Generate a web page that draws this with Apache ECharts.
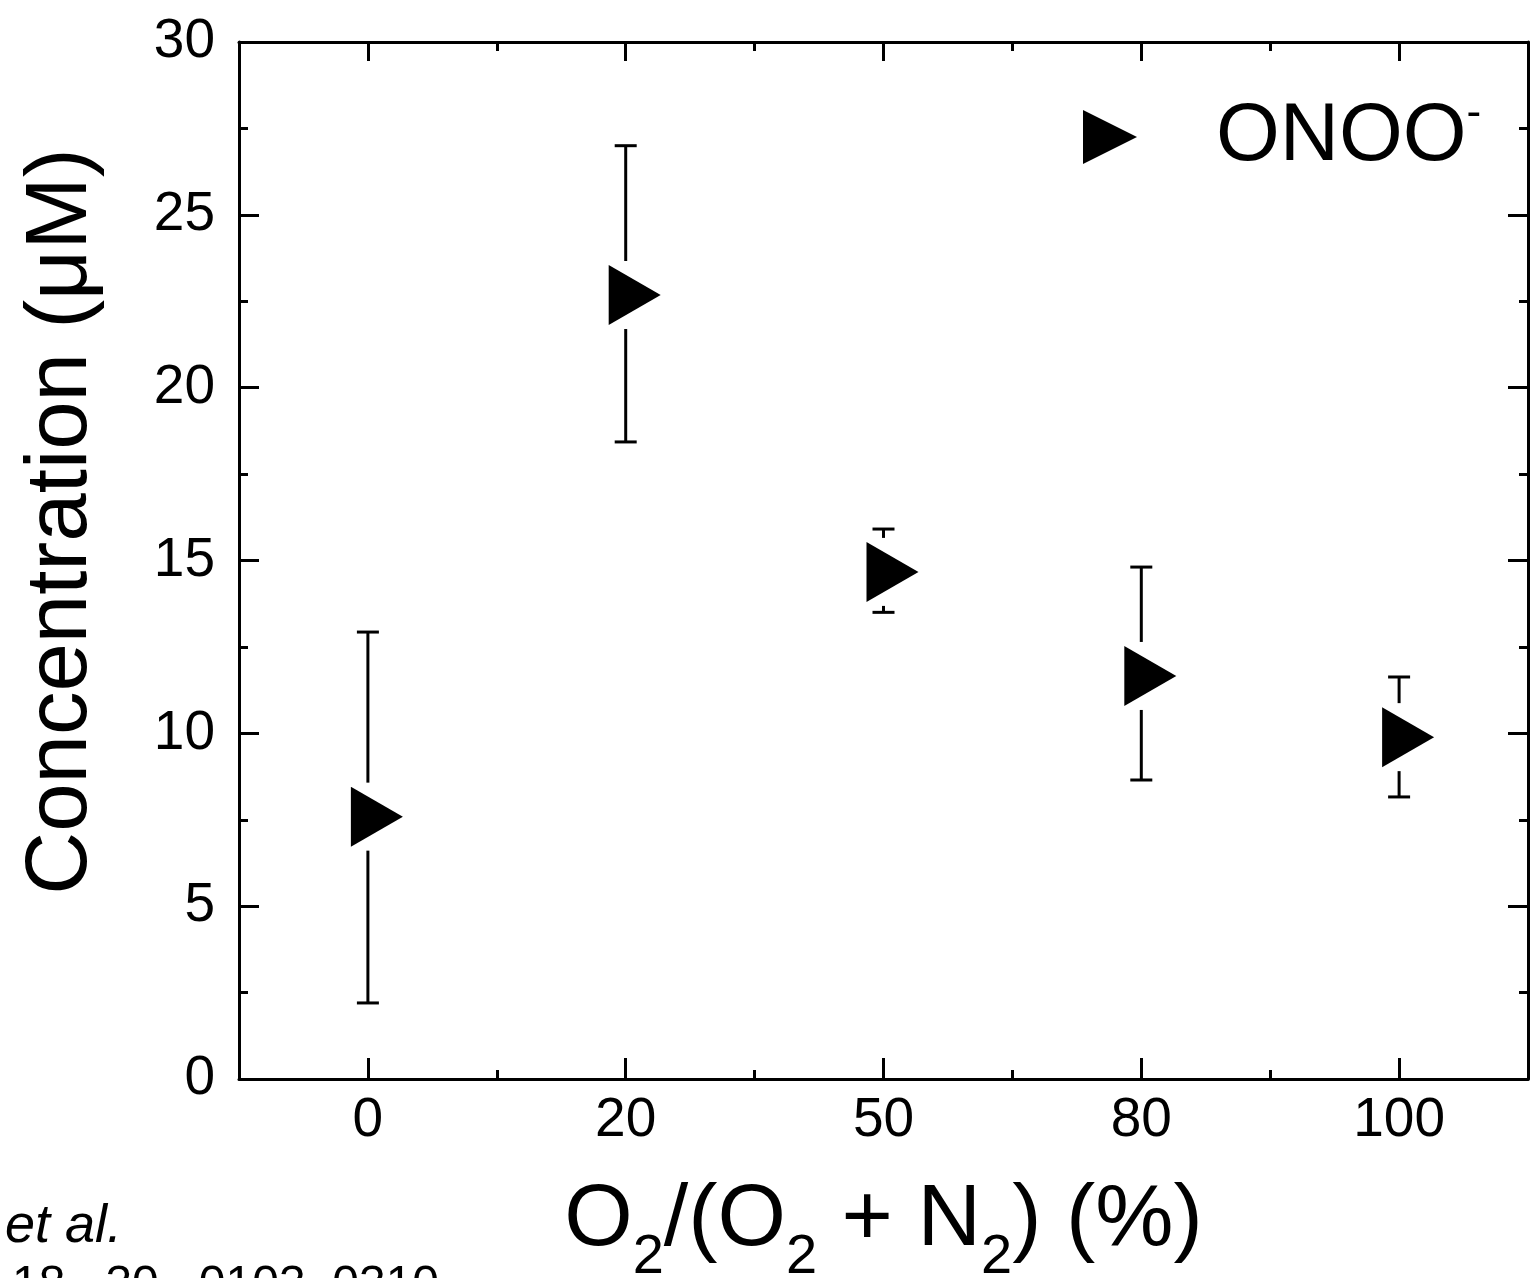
<!DOCTYPE html>
<html>
<head>
<meta charset="utf-8">
<script src="https://cdn.jsdelivr.net/npm/echarts@6/dist/echarts.min.js"></script>
<style>
html,body{margin:0;padding:0;background:#fff;}
#chart{width:1535px;height:1278px;}
</style>
</head>
<body>
<div id="chart"></div>
<script>
// ---- data ----
var categories = ['0', '20', '50', '80', '100'];
var values     = [7.59, 22.68, 14.67, 11.66, 9.89];
var errLow     = [2.20, 18.43, 13.50, 8.65, 8.16];
var errHigh    = [12.93, 27.00, 15.91, 14.81, 11.63];
var yTicks     = { min: 0, max: 30, interval: 5 };
var seriesName = 'ONOO';

var FONT = 'Liberation Sans, Arial, sans-serif';
var triPath = 'path://M0,0 L1,0.5 L0,1 Z';

var chart = echarts.init(document.getElementById('chart'), null, { renderer: 'canvas' });

var scatterData = values.map(function (v, i) { return [i, v]; });
var errData = values.map(function (v, i) { return [i, v, errLow[i], errHigh[i]]; });

function baseCat(pos, showLabel, centered, tickLen, showLine) {
  return {
    type: 'category', data: categories, position: pos, boundaryGap: true,
    axisLine: { show: showLine, onZero: false, lineStyle: { color: '#000', width: 3 } },
    axisTick: { show: true, inside: true, length: tickLen, alignWithLabel: centered, interval: 0,
                lineStyle: { color: '#000', width: 3 } },
    axisLabel: { show: showLabel, color: '#000', fontFamily: FONT, fontSize: 55, margin: 14, interval: 0 },
    splitLine: { show: false }
  };
}
function baseVal(pos, showLabel) {
  return {
    type: 'value', position: pos, min: yTicks.min, max: yTicks.max, interval: yTicks.interval,
    axisLine: { show: true, onZero: false, lineStyle: { color: '#000', width: 3 } },
    axisTick: { show: true, inside: true, length: 20, lineStyle: { color: '#000', width: 3 } },
    minorTick: { show: true, splitNumber: 2, length: 9, lineStyle: { color: '#000', width: 3 } },
    axisLabel: { show: showLabel, color: '#000', fontFamily: FONT, fontSize: 55, margin: 24 },
    splitLine: { show: false }, minorSplitLine: { show: false }
  };
}

var xMain = baseCat('bottom', true, true, 21, true);
xMain.name = '{a|O}{s|2}{a|/(O}{s|2}{a| + N}{s|2}{a|) (%)}';
xMain.nameLocation = 'middle';
xMain.nameGap = 77;
xMain.nameTextStyle = {
  rich: {
    a: { fontFamily: FONT, fontSize: 88, color: '#000', lineHeight: 130, verticalAlign: 'middle' },
    s: { fontFamily: FONT, fontSize: 56, color: '#000', lineHeight: 34, verticalAlign: 'bottom' }
  }
};

var yMain = baseVal('left', true);
yMain.name = 'Concentration (μM)';
yMain.nameLocation = 'middle';
yMain.nameGap = 133;
yMain.nameTextStyle = { fontFamily: FONT, fontSize: 87, color: '#000', padding: [0, 0, 0, 78] };

var option = {
  backgroundColor: '#fff',
  animation: false,
  grid: { left: 239, right: 7, top: 42, bottom: 199, containLabel: false, outerBoundsMode: 'none' },
  xAxis: [
    xMain,
    baseCat('bottom', false, false, 9, false),
    baseCat('top', false, true, 19, true),
    baseCat('top', false, false, 9, false)
  ],
  yAxis: [
    yMain,
    baseVal('right', false)
  ],
  legend: {
    show: true, left: 1078, top: 87, orient: 'horizontal',
    itemWidth: 54, itemHeight: 62, icon: triPath,
    data: [seriesName],
    formatter: function () { return '{g|}{a|ONOO}{b|-}'; },
    textStyle: {
      rich: {
        g: { width: 74 },
        a: { fontFamily: FONT, fontSize: 82, color: '#000', lineHeight: 90, verticalAlign: 'middle' },
        b: { fontFamily: FONT, fontSize: 44, color: '#000', lineHeight: 34, verticalAlign: 'top' }
      }
    }
  },
  graphic: [
    { type: 'text', left: 5, top: 1200, style: { text: 'et al.', fill: '#000', font: 'italic 54px ' + FONT } },
    { type: 'text', left: 12, top: 1262, style: { text: '18,  30,  0103–0310', fill: '#000', font: '48px ' + FONT } }
  ],
  series: [
    {
      type: 'custom', name: 'err', xAxisIndex: 0, yAxisIndex: 0, silent: true,
      data: errData, encode: { x: 0, y: 1 }, z: 2,
      renderItem: function (params, api) {
        var i = api.value(0);
        var c = api.coord([i, api.value(1)]);
        var lo = api.coord([i, api.value(2)]);
        var hi = api.coord([i, api.value(3)]);
        var gap = 34, cap = 11;
        var st = { stroke: '#000', lineWidth: 3 };
        var ch = [];
        if (hi[1] < c[1] - gap) ch.push({ type: 'line', shape: { x1: c[0], y1: hi[1], x2: c[0], y2: c[1] - gap }, style: st });
        if (lo[1] > c[1] + gap) ch.push({ type: 'line', shape: { x1: c[0], y1: c[1] + gap, x2: c[0], y2: lo[1] }, style: st });
        ch.push({ type: 'line', shape: { x1: c[0] - cap, y1: hi[1], x2: c[0] + cap, y2: hi[1] }, style: st });
        ch.push({ type: 'line', shape: { x1: c[0] - cap, y1: lo[1], x2: c[0] + cap, y2: lo[1] }, style: st });
        return { type: 'group', children: ch };
      }
    },
    {
      type: 'scatter', name: seriesName, xAxisIndex: 0, yAxisIndex: 0, z: 3,
      data: scatterData, symbol: triPath, symbolSize: [52, 60], symbolOffset: [9, 0],
      itemStyle: { color: '#000', opacity: 1 }
    }
  ]
};

chart.setOption(option);
</script>
</body>
</html>
